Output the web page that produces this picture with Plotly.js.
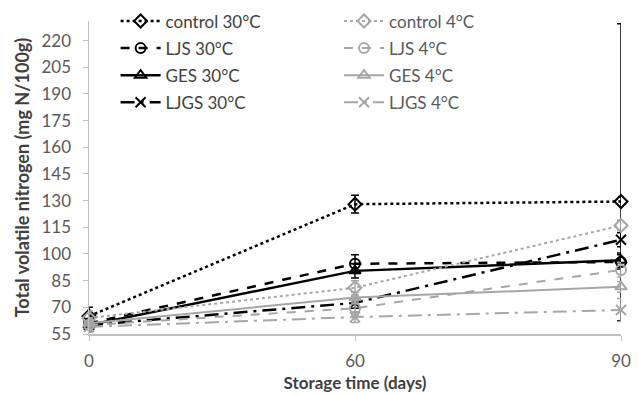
<!DOCTYPE html>
<html><head><meta charset="utf-8">
<script src="https://cdn.plot.ly/plotly-3.0.1.min.js"></script>
<style>html,body{margin:0;padding:0;background:#fff}#c{width:639px;height:396px}</style>
</head><body><div id="c"></div>
<script>
var days = ['0','60','90'];
var names = ['control 30°C','LJS 30°C','GES 30°C','LJGS 30°C','control 4°C','LJS 4°C','GES 4°C','LJGS 4°C'];
var control30 = [65, 128, 129.5];
var ljs30 = [61, 94.5, 95.5];
var ges30 = [60, 90.5, 96.5];
var ljgs30 = [60, 72.5, 108];
var control4 = [64, 81, 116];
var ljs4 = [60, 69.5, 91];
var ges4 = [61, 75.5, 81.5];
var ljgs4 = [59, 64.5, 68.5];
var errControl30Up = [5, 5, 100];
var errControl30Down = [5, 5, 67];
var errLjs30 = [4, 5, 4];
var errGes30 = [3, 4, 4];
var errLjgs30 = [3, 3, 4];
var errControl4 = [4, 4, 3];
var errLjs4 = [3, 4, 4];
var errGes4 = [3, 3, 3];
var errLjgs4 = [3, 3, 6.5];

var BLACK = '#000000', GRAY = '#a6a6a6';
function tr(name, y, eUp, eDown, color, dash, sym, width, legend){
  return {
    type:'scatter', mode:'lines+markers', name:name, x:days, y:y,
    cliponaxis:false, legend:legend, legendgroup:name,
    line:{color:color, dash:dash, width:width},
    marker:{symbol:sym, size:10, color:color, line:{color:color, width:2}},
    error_y:{type:'data', symmetric:false, array:eUp, arrayminus:eDown, color:color, thickness:1.5, width:4, visible:true}
  };
}
var LDD = '14px,6px,3px,6px';
var data = [
  tr(names[0], control30, errControl30Up, errControl30Down, BLACK, 'dot', 'diamond-open', 2.5, 'legend'),
  tr(names[1], ljs30, errLjs30, errLjs30, BLACK, 'dash', 'circle-open', 2.5, 'legend'),
  tr(names[2], ges30, errGes30, errGes30, BLACK, 'solid', 'triangle-up-open', 2.5, 'legend'),
  tr(names[3], ljgs30, errLjgs30, errLjgs30, BLACK, LDD, 'x-thin-open', 2.5, 'legend'),
  tr(names[4], control4, errControl4, errControl4, GRAY, 'dot', 'diamond-open', 2, 'legend2'),
  tr(names[5], ljs4, errLjs4, errLjs4, GRAY, 'dash', 'circle-open', 2, 'legend2'),
  tr(names[6], ges4, errGes4, errGes4, GRAY, 'solid', 'triangle-up-open', 2, 'legend2'),
  tr(names[7], ljgs4, errLjgs4, errLjgs4, GRAY, LDD, 'x-thin-open', 2, 'legend2')
];
var tickVals = [55,70,85,100,115,130,145,160,175,190,205,220];
var FONT = 'Lato, "Open Sans", sans-serif';
var layout = {
  width:639, height:396,
  margin:{l:89, r:18, t:21, b:62, autoexpand:false},
  paper_bgcolor:'#fff', plot_bgcolor:'#fff',
  font:{family:FONT, color:'#595959', size:15},
  xaxis:{type:'category', range:[0,2], showgrid:false, zeroline:false,
    showline:true, linecolor:'#bfbfbf', linewidth:1.5, ticks:'outside', ticklen:5, tickcolor:'#bfbfbf',
    tickfont:{size:17, color:'#595959'}, ticklabelstandoff:6,
    title:{text:'<b>Storage time (days)</b>', font:{size:17, color:'#404040'}, standoff:7}},
  yaxis:{range:[55,231], tickvals:tickVals, showgrid:false, zeroline:false,
    showline:true, linecolor:'#bfbfbf', linewidth:1.5, ticks:'outside', ticklen:5, tickcolor:'#bfbfbf',
    tickfont:{size:17, color:'#595959'}, ticklabelstandoff:8,
    title:{text:'<b>Total volatile nitrogen (mg N/100g)</b>', font:{size:18, color:'#404040'}, standoff:7}},
  legend:{x:0.05, y:1.056, xanchor:'left', yanchor:'top', bgcolor:'rgba(0,0,0,0)',
    font:{size:17, color:'#404040'}, tracegroupgap:2, itemwidth:40},
  legend2:{x:0.47, y:1.056, xanchor:'left', yanchor:'top', bgcolor:'rgba(0,0,0,0)',
    font:{size:17, color:'#595959'}, tracegroupgap:2, itemwidth:40},
  showlegend:true
};
Plotly.newPlot('c', data, layout, {staticPlot:true});
</script></body></html>
